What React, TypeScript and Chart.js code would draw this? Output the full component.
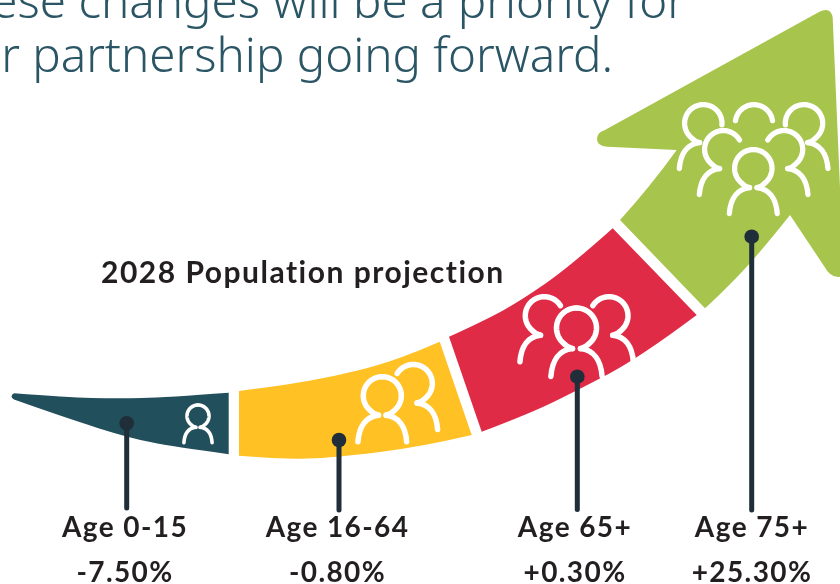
import React, { useEffect, useRef } from "react";
import { Chart, registerables } from "chart.js";

Chart.register(...registerables);

const FONT = "Lato, 'Noto Sans', sans-serif";
const HEAD_FONT = "'Noto Sans', Lato, sans-serif";

const categories = ["Age 0-15", "Age 16-64", "Age 65+", "Age 75+"];
const populationChange = [-7.5, -0.8, 0.3, 25.3];
const colors = ["#224F5C", "#FFC124", "#E02B47", "#A7C44C"];
const PIN = "#1F2E39";
const INK = "#231F20";
const HEAD = "#2A5565";

const labelX = [125, 337.5, 575, 752];
const pinX = [126.7, 339, 577.3, 751.7];
const pinTop = [423.3, 440, 376.7, 236.7];
const pinBottom = [508, 510, 509.5, 510];

const c = (x: number, y: number) => ({ x, y, corner: true });
const s = (x: number, y: number) => ({ x, y, corner: false });

const tealBand = [
  c(14, 393.2), s(66.7, 397.2), s(116.7, 398.6), s(166.7, 397.4), c(228.7, 392.7),
  c(228.7, 454.3), s(173, 446.7), s(130, 438), s(66.7, 418.3), c(14, 399.6), s(9, 396.4),
];
const yellowBand = [
  c(239, 391), s(283, 385.4), s(333, 376.7), s(380, 365), s(420, 350.5), c(439.7, 341.7),
  c(471.7, 435), s(420, 447.2), s(333, 457.8), s(283, 459.3), c(239, 455.7),
];
const redBand = [
  c(449, 336.7), s(485, 320.3), s(521, 300.5), s(570, 266.5), c(612.7, 228.3),
  c(696.7, 315), s(640, 357.4), s(577, 390.4), s(530, 413.4), c(481.7, 431.7),
];
const greenArrow = [
  c(620, 220), s(650, 187), c(676.7, 150), c(607, 146.7), s(597, 146), s(597, 132.5), c(604, 130.5),
  c(819, 12), s(831, 6), c(832.7, 18), c(843, 258), s(846, 277), s(830, 277), c(824, 266),
  c(790, 215), s(756.7, 257), s(716, 298.5), c(705, 308.3),
];
const bands = [tealBand, yellowBand, redBand, greenArrow];

// start: degrees from the top of the head at which the arc begins (negative = past the top, on the far side)
type Fig = { x: number; y: number; r: number; w: number; side: number; start: number };
const iconFigures: Fig[] = [
  { x: 198, y: 416, r: 11, w: 3.6, side: 0, start: 0 },
  { x: 382.3, y: 395.7, r: 19, w: 5.5, side: 0, start: 0 },
  { x: 413.3, y: 383.5, r: 19, w: 5.5, side: 1, start: -58 },
  { x: 576.5, y: 328, r: 20, w: 5.5, side: 0, start: 0 },
  { x: 544.3, y: 315.7, r: 19, w: 5.5, side: -1, start: -58 },
  { x: 609, y: 315.7, r: 19, w: 5.5, side: 1, start: -58 },
  { x: 753.3, y: 168.3, r: 18.7, w: 5.3, side: 0, start: 0 },
  { x: 723.3, y: 149.3, r: 18.7, w: 5.3, side: -1, start: -60 },
  { x: 784, y: 149.3, r: 18.7, w: 5.3, side: 1, start: -60 },
  { x: 703.3, y: 123.3, r: 18.7, w: 5.3, side: -1, start: -95 },
  { x: 804, y: 123.3, r: 18.7, w: 5.3, side: 1, start: -95 },
];
const iconCaps = [{ x: 754, y: 123.3, r: 18.7, w: 5.3 }];

function figureSide(ctx: CanvasRenderingContext2D, r: number, px: number, py: number, side: number, startDeg: number) {
  const t0 = (startDeg * Math.PI) / 180;
  const t1 = (138 * Math.PI) / 180;
  ctx.beginPath();
  for (let i = 0; i <= 48; i++) {
    const t = t0 + ((t1 - t0) * i) / 48;
    const x = px + side * Math.sin(t) * r;
    const y = py - Math.cos(t) * r;
    if (i === 0) ctx.moveTo(x, y);
    else ctx.lineTo(x, y);
  }
  const tx = px + side * 0.2 * r;
  const ty = py + 1.03 * r;
  ctx.quadraticCurveTo(px + side * 0.45 * r, py + 0.98 * r, tx, ty);
  ctx.stroke();
  ctx.beginPath();
  ctx.moveTo(tx, ty);
  ctx.bezierCurveTo(px + side * 0.85 * r, py + 1.1 * r, px + side * 1.22 * r, py + 1.6 * r, px + side * 1.28 * r, py + 2.42 * r);
  ctx.stroke();
}

const drawPlugin = {
  id: "arrowInfographic",
  beforeDatasetsDraw(chart: any) {
    const ctx: CanvasRenderingContext2D = chart.ctx;
    ctx.save();
    chart.data.datasets.forEach((ds: any, di: number) => {
      if (!ds.isBand) return;
      const meta = chart.getDatasetMeta(di);
      const raw = ds.data;
      const n = raw.length;
      const at = (i: number) => meta.data[i % n];
      ctx.beginPath();
      ctx.moveTo(at(0).x, at(0).y);
      for (let i = 1; i <= n; i++) {
        const p = at(i);
        if (raw[i % n].corner) {
          ctx.lineTo(p.x, p.y);
        } else {
          const nx = at(i + 1);
          if (raw[(i + 1) % n].corner) {
            ctx.quadraticCurveTo(p.x, p.y, nx.x, nx.y);
            i++;
          } else {
            ctx.quadraticCurveTo(p.x, p.y, (p.x + nx.x) / 2, (p.y + nx.y) / 2);
          }
        }
      }
      ctx.closePath();
      ctx.fillStyle = ds.bandColor;
      ctx.fill();
    });

    const sx = chart.scales.x;
    const sy = chart.scales.y;
    ctx.strokeStyle = "#FFFFFF";
    ctx.lineCap = "round";
    ctx.lineJoin = "round";
    iconFigures.forEach((f) => {
      const px = sx.getPixelForValue(f.x);
      const py = sy.getPixelForValue(f.y);
      ctx.lineWidth = f.w;
      if (f.side === 0) {
        figureSide(ctx, f.r, px, py, -1, 0);
        figureSide(ctx, f.r, px, py, 1, 0);
      } else {
        figureSide(ctx, f.r, px, py, f.side, f.start);
      }
    });
    iconCaps.forEach((f) => {
      ctx.lineWidth = f.w;
      ctx.beginPath();
      ctx.arc(sx.getPixelForValue(f.x), sy.getPixelForValue(f.y), f.r, Math.PI + 0.14, -0.14);
      ctx.stroke();
    });
    ctx.restore();
  },
  afterDatasetsDraw(chart: any) {
    const ctx: CanvasRenderingContext2D = chart.ctx;
    const sx = chart.scales.x;
    const sy = chart.scales.y;
    ctx.save();
    ctx.textBaseline = "alphabetic";

    ctx.fillStyle = HEAD;
    ctx.textAlign = "right";
    ctx.font = `300 47.5px ${HEAD_FONT}`;
    ctx.fillText("These changes will be a priority for", sx.getPixelForValue(686), sy.getPixelForValue(18));
    ctx.fillText("our partnership going forward.", sx.getPixelForValue(613), sy.getPixelForValue(71.5));

    ctx.fillStyle = INK;
    ctx.textAlign = "left";
    ctx.font = `700 30px ${FONT}`;
    (ctx as any).letterSpacing = "1.5px";
    ctx.fillText("2028 Population projection", sx.getPixelForValue(101), sy.getPixelForValue(283));

    ctx.textAlign = "center";
    ctx.font = `700 28px ${FONT}`;
    (ctx as any).letterSpacing = "1.4px";
    categories.forEach((cat, i) => {
      const v = populationChange[i];
      const txt = (v > 0 ? "+" : "") + v.toFixed(2) + "%";
      ctx.fillText(cat, sx.getPixelForValue(labelX[i]), sy.getPixelForValue(537));
      ctx.fillText(txt, sx.getPixelForValue(labelX[i]), sy.getPixelForValue(582));
    });
    ctx.restore();
  },
};

export default function App() {
  const ref = useRef<HTMLCanvasElement | null>(null);
  useEffect(() => {
    if (!ref.current) return;
    const bandSets = bands.map((data, i) => ({
      label: categories[i] + " band",
      data,
      isBand: true,
      bandColor: colors[i],
      showLine: false,
      pointRadius: 0,
    }));
    const pinSets = categories.map((cat, i) => ({
      label: cat,
      data: [
        { x: pinX[i], y: pinTop[i] },
        { x: pinX[i], y: pinBottom[i] },
      ],
      showLine: true,
      borderColor: PIN,
      borderWidth: 5,
      borderCapStyle: "round" as const,
      backgroundColor: PIN,
      pointRadius: [7.3, 0],
      pointBorderWidth: 0,
    }));
    const chart = new Chart(ref.current, {
      type: "scatter",
      data: { datasets: [...bandSets, ...pinSets] as any },
      options: {
        animation: false,
        responsive: false,
        layout: { padding: 0, autoPadding: false },
        clip: false as any,
        plugins: { legend: { display: false }, tooltip: { enabled: false }, title: { display: false } },
        scales: {
          x: { type: "linear", min: 0, max: 840, display: false },
          y: { type: "linear", min: 0, max: 584, reverse: true, display: false },
        },
      },
      plugins: [drawPlugin],
    });
    return () => chart.destroy();
  }, []);
  return (
    <div style={{ position: "absolute", left: 0, top: 0, width: 840, height: 584, background: "#FFFFFF", overflow: "hidden" }}>
      <canvas ref={ref} width={840} height={584} style={{ display: "block" }} />
    </div>
  );
}
